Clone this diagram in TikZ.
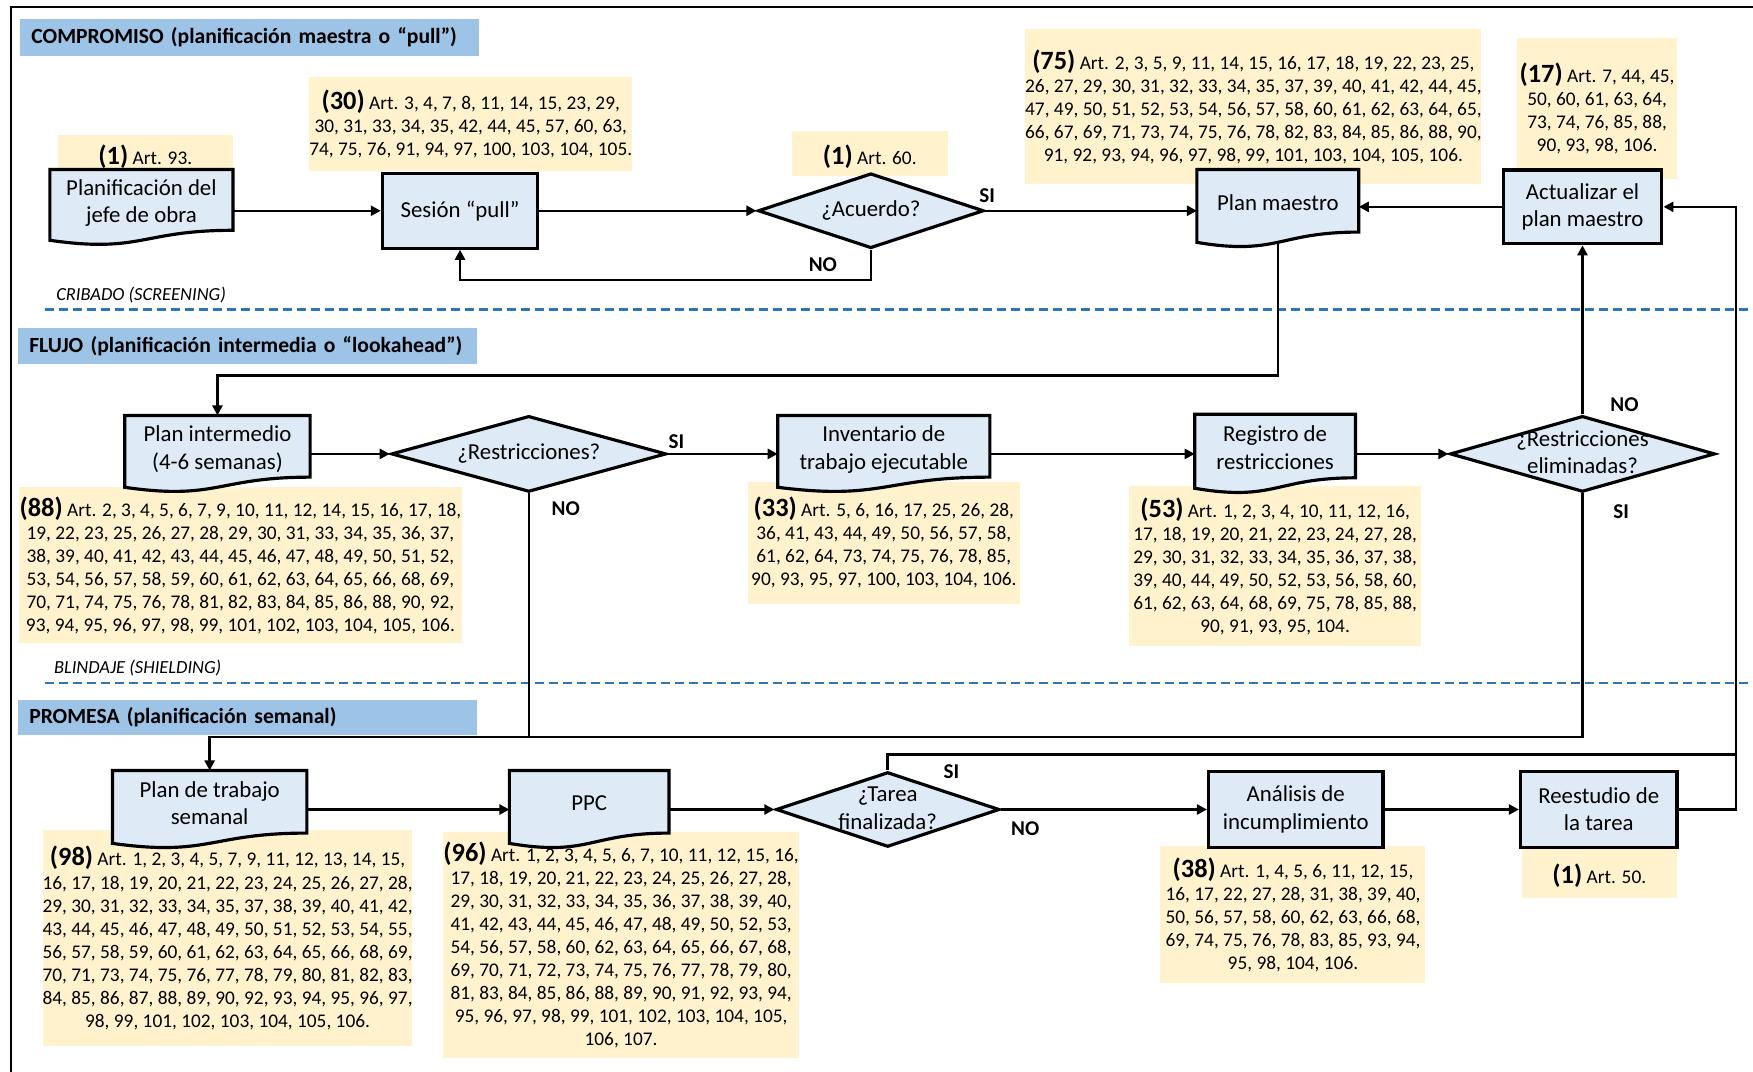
\documentclass[tikz,border=0pt]{standalone}
\usepackage{fontspec}
\setmainfont{Carlito}
\usetikzlibrary{shapes.geometric,arrows.meta}

\definecolor{boxblue}{HTML}{DEEBF7}
\definecolor{hdrblue}{HTML}{9DC3E6}
\definecolor{noteyel}{HTML}{FFF2CC}
\definecolor{lanecol}{HTML}{2E75B6}

% flowchart "document" shape (wavy bottom)
\makeatletter
\newdimen\docxa \newdimen\docxb \newdimen\docya \newdimen\docyb
\newdimen\doch \newdimen\docxm
\pgfdeclareshape{document}{%
  \inheritsavedanchors[from=rectangle]%
  \inheritanchorborder[from=rectangle]%
  \inheritanchor[from=rectangle]{center}%
  \inheritanchor[from=rectangle]{text}%
  \inheritanchor[from=rectangle]{base}%
  \inheritanchor[from=rectangle]{mid}%
  \inheritanchor[from=rectangle]{north}%
  \inheritanchor[from=rectangle]{south}%
  \inheritanchor[from=rectangle]{east}%
  \inheritanchor[from=rectangle]{west}%
  \inheritanchor[from=rectangle]{north east}%
  \inheritanchor[from=rectangle]{north west}%
  \inheritanchor[from=rectangle]{south east}%
  \inheritanchor[from=rectangle]{south west}%
  \backgroundpath{%
    \southwest \docxa=\pgf@x \docya=\pgf@y
    \northeast \docxb=\pgf@x \docyb=\pgf@y
    \doch=\docyb \advance\doch by -\docya
    \docxm=.5\docxa \advance\docxm by .5\docxb
    \pgfpathmoveto{\pgfqpoint{\docxa}{\docyb}}%
    \pgfpathlineto{\pgfqpoint{\docxb}{\docyb}}%
    \pgfpathlineto{\pgfqpoint{\docxb}{\dimexpr\docyb-0.802\doch\relax}}%
    \pgfpathcurveto{\pgfqpoint{\docxm}{\dimexpr\docyb-0.802\doch\relax}}%
      {\pgfqpoint{\docxm}{\dimexpr\docyb-1.107\doch\relax}}%
      {\pgfqpoint{\docxa}{\dimexpr\docyb-0.934\doch\relax}}%
    \pgfpathclose
  }%
}
\makeatother

\newcommand{\artnum}[1]{{\fontsize{15}{15}\selectfont\bfseries(#1)}}
\newcommand{\dtext}[1]{\makebox[0pt]{\smash{\raisebox{-0.25em}{\begin{tabular}{@{}c@{}}#1\end{tabular}}}}}

\begin{document}
\begin{tikzpicture}[
    proc/.style={draw, line width=1.8pt, fill=boxblue, align=center, inner sep=0pt,
                 font=\fontsize{13}{15.5}\selectfont},
    docu/.style={proc, shape=document, execute at end node={\rule[-2.5mm]{0pt}{0pt}}},
    deci/.style={proc, diamond},
    note/.style={fill=noteyel, align=center, inner sep=0pt, font=\fontsize{11}{13.1}\selectfont,
                 execute at begin node={\rule{0pt}{5.3mm}}},
    hdr/.style={fill=hdrblue, anchor=north west, inner xsep=0.22cm, inner ysep=0pt,
                text width=8.73cm, minimum height=0.73cm, align=left,
                font=\fontsize{12.3}{15}\selectfont\bfseries},
    lbl/.style={font=\fontsize{12}{14}\selectfont\bfseries},
    lane/.style={lanecol, line width=1.5pt, dash pattern=on 0.18cm off 0.1cm},
    lanelbl/.style={anchor=west, inner sep=0pt, font=\fontsize{10.5}{12}\selectfont\itshape},
    ln/.style={line width=1.4pt},
    arr/.style={ln, -{Triangle[length=2mm,width=2mm]}}
]
\useasboundingbox (0,0) rectangle (35.06,-21.44);
\draw[line width=1.3pt] (0.22,-21.44) -- (0.22,-0.14) -- (35.06,-0.14);

% lanes
\node[hdr] (hcomp) at (0.402,-0.38) {COMPROMISO (planificación maestra o “pull”)};
\node[hdr] (hflujo) at (0.358,-6.55) {FLUJO (planificación intermedia o “lookahead”)};
\node[hdr, minimum height=0.69cm] (hprom) at (0.358,-14.0) {PROMESA (planificación semanal)};

\draw[lane] (0.894,-6.194) -- (35.06,-6.194);
\draw[lane] (0.894,-13.66) -- (35.06,-13.66);
\node[lanelbl] (lcrib) at (1.118,-5.90) {CRIBADO (SCREENING)};
\node[lanelbl] (lblin) at (1.073,-13.37) {BLINDAJE (SHIELDING)};

% article notes
\node[note, minimum width=3.49cm, minimum height=0.716cm] (n93) at (2.907,-3.063)
    {\artnum{1} Art. 93.};
\node[note, minimum width=6.395cm, minimum height=1.878cm] (n30) at (9.414,-2.482)
    {\artnum{30} Art. 3, 4, 7, 8, 11, 14, 15, 23, 29,\\
     30, 31, 33, 34, 35, 42, 44, 45, 57, 60, 63,\\
     74, 75, 76, 91, 94, 97, 100, 103, 104, 105.};
\node[note, minimum width=3.13cm, minimum height=0.894cm] (n60) at (17.396,-3.063)
    {\artnum{1} Art. 60.};
\node[note, minimum width=9.078cm, minimum height=3.108cm] (n75) at (25.066,-2.135)
    {\artnum{75} Art. 2, 3, 5, 9, 11, 14, 15, 16, 17, 18, 19, 22, 23, 25,\\
     26, 27, 29, 30, 31, 32, 33, 34, 35, 37, 39, 40, 41, 42, 44, 45,\\
     47, 49, 50, 51, 52, 53, 54, 56, 57, 58, 60, 61, 62, 63, 64, 65,\\
     66, 67, 69, 71, 73, 74, 75, 76, 78, 82, 83, 84, 85, 86, 88, 90,\\
     91, 92, 93, 94, 96, 97, 98, 99, 101, 103, 104, 105, 106.};
\node[note, minimum width=3.197cm, minimum height=2.817cm] (n17) at (31.941,-2.169)
    {\artnum{17} Art. 7, 44, 45,\\ 50, 60, 61, 63, 64,\\ 73, 74, 76, 85, 88,\\ 90, 93, 98, 106.};
\node[note, minimum width=8.855cm, minimum height=3.108cm] (n88) at (4.807,-11.303)
    {\artnum{88} Art. 2, 3, 4, 5, 6, 7, 9, 10, 11, 12, 14, 15, 16, 17, 18,\\
     19, 22, 23, 25, 26, 27, 28, 29, 30, 31, 33, 34, 35, 36, 37,\\
     38, 39, 40, 41, 42, 43, 44, 45, 46, 47, 48, 49, 50, 51, 52,\\
     53, 54, 56, 57, 58, 59, 60, 61, 62, 63, 64, 65, 66, 68, 69,\\
     70, 71, 74, 75, 76, 78, 81, 82, 83, 84, 85, 86, 88, 90, 92,\\
     93, 94, 95, 96, 97, 98, 99, 101, 102, 103, 104, 105, 106.};
\node[note, minimum width=5.433cm, minimum height=2.437cm] (n33) at (17.676,-10.856)
    {\artnum{33} Art. 5, 6, 16, 17, 25, 26, 28,\\
     36, 41, 43, 44, 49, 50, 56, 57, 58,\\
     61, 62, 64, 73, 74, 75, 76, 78, 85,\\
     90, 93, 95, 97, 100, 103, 104, 106.};
\node[note, minimum width=5.836cm, minimum height=3.197cm] (n53) at (25.502,-11.325)
    {\artnum{53} Art. 1, 2, 3, 4, 10, 11, 12, 16,\\
     17, 18, 19, 20, 21, 22, 23, 24, 27, 28,\\
     29, 30, 31, 32, 33, 34, 35, 36, 37, 38,\\
     39, 40, 44, 49, 50, 52, 53, 56, 58, 60,\\
     61, 62, 63, 64, 68, 69, 75, 78, 85, 88,\\
     90, 91, 93, 95, 104.};
\node[note, minimum width=7.356cm, minimum height=4.338cm] (n98) at (4.550,-18.76)
    {\artnum{98} Art. 1, 2, 3, 4, 5, 7, 9, 11, 12, 13, 14, 15,\\
     16, 17, 18, 19, 20, 21, 22, 23, 24, 25, 26, 27, 28,\\
     29, 30, 31, 32, 33, 34, 35, 37, 38, 39, 40, 41, 42,\\
     43, 44, 45, 46, 47, 48, 49, 50, 51, 52, 53, 54, 55,\\
     56, 57, 58, 59, 60, 61, 62, 63, 64, 65, 66, 68, 69,\\
     70, 71, 73, 74, 75, 76, 77, 78, 79, 80, 81, 82, 83,\\
     84, 85, 86, 87, 88, 89, 90, 92, 93, 94, 95, 96, 97,\\
     98, 99, 101, 102, 103, 104, 105, 106.};
\node[note, minimum width=7.133cm, minimum height=4.517cm] (n96) at (12.421,-18.894)
    {\artnum{96} Art. 1, 2, 3, 4, 5, 6, 7, 10, 11, 12, 15, 16,\\
     17, 18, 19, 20, 21, 22, 23, 24, 25, 26, 27, 28,\\
     29, 30, 31, 32, 33, 34, 35, 36, 37, 38, 39, 40,\\
     41, 42, 43, 44, 45, 46, 47, 48, 49, 50, 52, 53,\\
     54, 56, 57, 58, 60, 62, 63, 64, 65, 66, 67, 68,\\
     69, 70, 71, 72, 73, 74, 75, 76, 77, 78, 79, 80,\\
     81, 83, 84, 85, 86, 88, 89, 90, 91, 92, 93, 94,\\
     95, 96, 97, 98, 99, 101, 102, 103, 104, 105,\\
     106, 107.};
\node[note, minimum width=5.299cm, minimum height=2.728cm] (n38) at (25.859,-18.29)
    {\artnum{38} Art. 1, 4, 5, 6, 11, 12, 15,\\
     16, 17, 22, 27, 28, 31, 38, 39, 40,\\
     50, 56, 57, 58, 60, 62, 63, 66, 68,\\
     69, 74, 75, 76, 78, 83, 85, 93, 94,\\
     95, 98, 104, 106.};
\node[note, minimum width=3.108cm, minimum height=1.006cm] (n50) at (31.986,-17.452)
    {\artnum{1} Art. 50.};

% compromiso
\node[docu, minimum width=3.60cm, minimum height=1.453cm] (pj) at (2.829,-4.148)
    {Planificación del\\jefe de obra};
\node[proc, minimum width=3.108cm, minimum height=1.498cm] (ses) at (9.201,-4.215)
    {Sesión “pull”};
\node[deci, minimum width=4.517cm, minimum height=1.498cm] (acu) at (17.418,-4.215)
    {\dtext{¿Acuerdo?}};
\node[docu, minimum width=3.175cm, minimum height=1.498cm] (pm) at (25.557,-4.17)
    {Plan maestro};
\node[proc, minimum width=3.175cm, minimum height=1.476cm] (act) at (31.65,-4.137)
    {Actualizar el\\plan maestro};

% flujo
\node[docu, minimum width=3.645cm, minimum height=1.476cm] (pint) at (4.349,-9.078)
    {Plan intermedio\\(4-6 semanas)};
\node[deci, minimum width=5.501cm, minimum height=1.52cm] (restr) at (10.576,-9.078)
    {\dtext{¿Restricciones?}};
\node[docu, minimum width=4.181cm, minimum height=1.476cm] (inv) at (17.676,-9.078)
    {Inventario de\\trabajo ejecutable};
\node[docu, minimum width=3.153cm, minimum height=1.52cm] (reg) at (25.502,-9.078)
    {Registro de\\restricciones};
\node[deci, minimum width=5.299cm, minimum height=1.52cm] (relim) at (31.65,-9.078)
    {\dtext{¿Restricciones\\eliminadas?}};

% promesa
\node[docu, minimum width=3.824cm, minimum height=1.498cm] (pdt) at (4.193,-16.19)
    {Plan de trabajo\\semanal};
\node[docu, minimum width=3.13cm, minimum height=1.498cm] (ppc) at (11.784,-16.19)
    {PPC};
\node[deci, minimum width=4.472cm, minimum height=1.498cm] (tarea) at (17.754,-16.19)
    {\dtext{¿Tarea\\finalizada?}};
\node[proc, minimum width=3.488cm, minimum height=1.52cm] (ana) at (25.915,-16.19)
    {Análisis de\\incumplimiento};
\node[proc, minimum width=3.13cm, minimum height=1.52cm] (ree) at (31.975,-16.19)
    {Reestudio de\\la tarea};

\coordinate (flujo) at (0,-7.513);
\coordinate (prom) at (0,-14.735);
\coordinate (bus) at (34.725,-15.093);

% connectors
\draw[arr] (pj.east |- ses.west) -- (ses.west);
\draw[arr] (ses.east) -- (acu.west);
\draw[arr] (acu.east) -- (acu.east -| pm.west);
\draw[arr] (acu.south) -- ++(0,-0.6) -| (ses.south);
\draw[arr] (act.west) -- (act.west -| pm.east);
\draw[arr] ([yshift=1mm]pm.south) |- (flujo -| pint.north) -- (pint.north);
\draw[arr] (pint.east) -- (restr.west);
\draw[arr] (restr.east) -- (inv.west);
\draw[arr] (inv.east) -- (reg.west);
\draw[arr] (reg.east) -- (relim.west);
\draw[arr] (relim.north) -- (act.south);
\draw[arr] (relim.south) |- (prom -| pdt.north) -- (pdt.north);
\draw[ln] (restr.south) -- (restr.south |- prom);
\draw[arr] (pdt.east) -- (ppc.west);
\draw[arr] (ppc.east) -- (tarea.west);
\draw[arr] (tarea.east) -- (ana.west);
\draw[arr] (ana.east) -- (ree.west);
\draw[arr] (tarea.north) |- (bus) |- (act.east);
\draw[ln] (ree.east) -| (bus);

% branch labels
\node[lbl] (si1) at (19.744,-3.913) {SI};
\node[lbl] (no1) at (16.457,-5.299) {NO};
\node[lbl] (si2) at (13.528,-8.832) {SI};
\node[lbl] (no2) at (11.314,-10.174) {NO};
\node[lbl] (no3) at (32.489,-8.094) {NO};
\node[lbl] (si3) at (32.422,-10.241) {SI};
\node[lbl] (si4) at (19.028,-15.428) {SI};
\node[lbl] (no4) at (20.504,-16.569) {NO};
\end{tikzpicture}
\end{document}
